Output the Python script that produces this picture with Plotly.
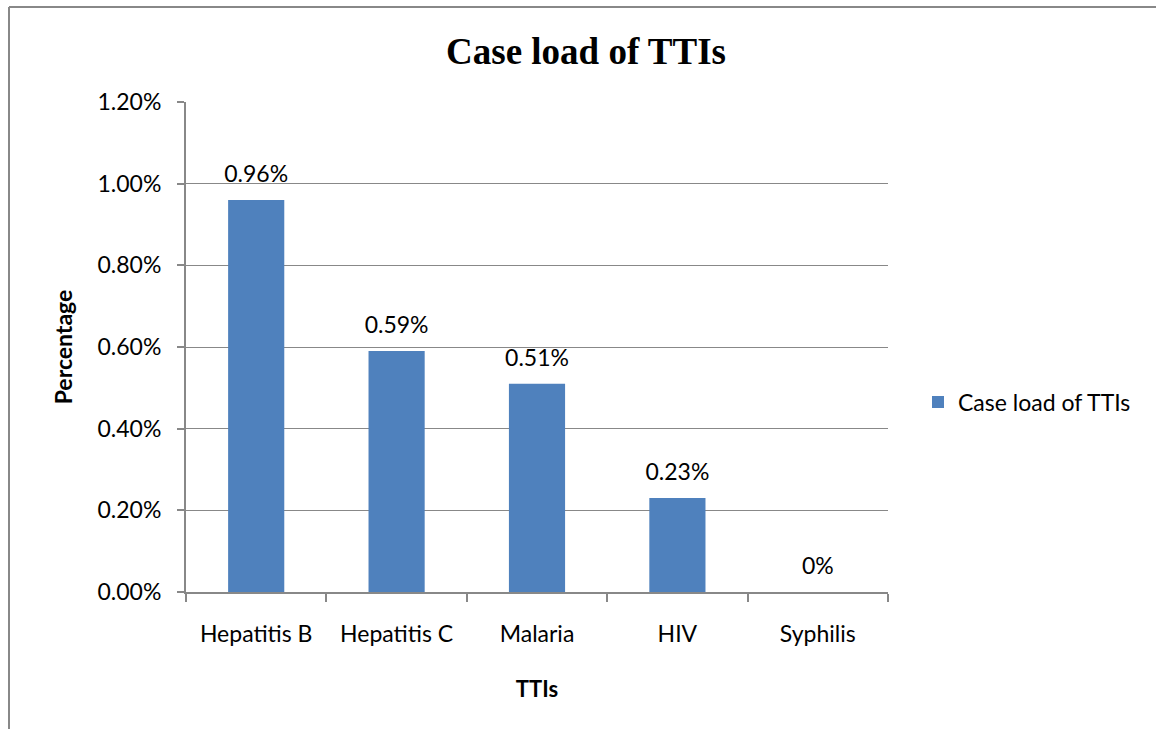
import plotly.graph_objects as go

categories = ["Hepatitis B", "Hepatitis C", "Malaria", "HIV", "Syphilis"]
values = [0.0096, 0.0059, 0.0051, 0.0023, 0.0]
labels = ["0.96%", "0.59%", "0.51%", "0.23%", "0%"]
series_name = "Case load of TTIs"

W, H = 1156, 729
L, R, T, B = 186, 268, 102, 137
pw = W - L - R
ph = H - T - B

def px(x):
    return (x - L) / pw

def py(y):
    return (H - B - y) / ph

font_main = "Lato, Open Sans, sans-serif"

fig = go.Figure()
fig.add_trace(go.Bar(
    x=categories, y=values, name=series_name,
    marker=dict(color="#4F81BD", line=dict(width=0)),
    showlegend=True,
))
fig.add_trace(go.Scatter(
    x=categories, y=values, mode="markers+text", text=labels,
    textposition="top center", cliponaxis=False,
    marker=dict(size=18, opacity=0),
    textfont=dict(family=font_main, size=23, color="#000000"),
    showlegend=False, hoverinfo="skip",
))

fig.update_layout(
    width=W, height=H,
    margin=dict(l=L, r=R, t=T, b=B),
    paper_bgcolor="white", plot_bgcolor="white",
    bargap=0.6,
    title=dict(text="<b>Case load of TTIs</b>", x=586 / W, xanchor="center",
               y=1 - 51 / H, yanchor="middle", xref="container",
               font=dict(family="Liberation Serif, Times New Roman, serif", size=37, color="#000")),
    xaxis=dict(
        showline=True, linecolor="#888888", linewidth=2,
        ticks="outside", ticklen=8, tickcolor="#888888", tickwidth=2,
        tickson="boundaries", ticklabelstandoff=20,
        tickfont=dict(family=font_main, size=23, color="#000"),
        title=dict(text="<b>TTIs</b>", font=dict(family=font_main, size=22, color="#000"), standoff=36),
    ),
    yaxis=dict(
        range=[0, 0.012], dtick=0.002, tickformat=".2%",
        showline=True, linecolor="#888888", linewidth=2,
        ticks="outside", ticklen=7, tickcolor="#888888", tickwidth=2,
        showgrid=True, gridcolor="#888888", gridwidth=1,
        zeroline=False, ticklabelstandoff=11,
        tickfont=dict(family=font_main, size=23, color="#000"),
        title=dict(text="<b>Percentage</b>", font=dict(family=font_main, size=23, color="#000"), standoff=18),
    ),
    legend=dict(x=px(918), y=py(402), xanchor="left", yanchor="middle",
                font=dict(family=font_main, size=23, color="#000"),
                bgcolor="rgba(0,0,0,0)"),
    showlegend=True,
)

fig.add_shape(type="line", xref="paper", yref="paper",
              x0=px(9), x1=px(9), y0=py(7), y1=py(729), line=dict(color="#888888", width=2))
fig.add_shape(type="line", xref="paper", yref="paper",
              x0=px(9), x1=px(1156), y0=py(7), y1=py(7), line=dict(color="#888888", width=2))

fig.write_html("out.html", config={"displayModeBar": False},
               post_script="document.body.style.margin='0px';")
